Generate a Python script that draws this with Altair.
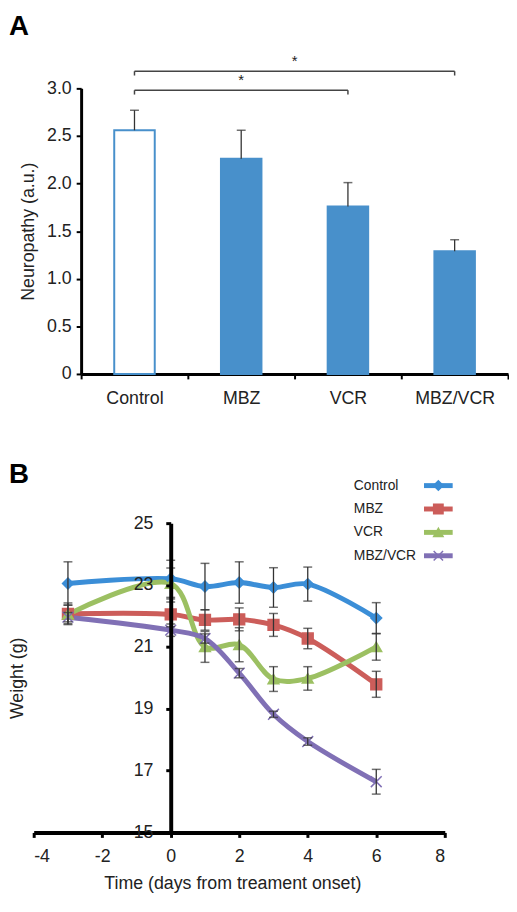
import altair as alt
import pandas as pd

# ---------------- Panel A data ----------------
groups = ["Control", "MBZ", "VCR", "MBZ/VCR"]
neuropathy = [2.56, 2.26, 1.76, 1.29]
neuropathy_err = [0.21, 0.30, 0.25, 0.12]

bracket_from = ["Control", "Control"]
bracket_to = ["VCR", "MBZ/VCR"]
bracket_level = [2.98, 3.18]
bracket_label = ["*", "*"]

# ---------------- Panel B data ----------------
days = [-3, 0, 1, 2, 3, 4, 6]
series = ["Control", "MBZ", "VCR", "MBZ/VCR"]
weight_control = [23.05, 23.2, 22.95, 23.08, 22.92, 23.03, 21.93]
err_control = [0.70, 0.60, 0.75, 0.67, 0.64, 0.55, 0.50]
weight_mbz = [22.07, 22.05, 21.87, 21.89, 21.71, 21.27, 19.79]
err_mbz = [0.35, 0.40, 0.33, 0.37, 0.37, 0.33, 0.42]
weight_vcr = [22.05, 23.05, 21.0, 21.07, 19.96, 19.98, 21.0]
err_vcr = [0.30, 0.50, 0.50, 0.55, 0.40, 0.38, 0.43]
weight_combo = [21.96, 21.54, 21.27, 20.15, 18.82, 17.94, 16.64]
err_combo = [0.15, 0.20, 0.15, 0.15, 0.10, 0.12, 0.40]

FONT = "Liberation Sans"
TXT = "#222222"
BAR_BLUE = "#4890CB"
colors = ["#3B8ED7", "#CC5D5A", "#9CC062", "#8070B5"]
fills = ["#3B8ED7", "#CC5D5A", "#9CC062", "transparent"]
shapes = ["diamond", "square", "triangle-up", "M-1,-1L1,1M-1,1L1,-1"]

# ---------------- Panel A ----------------
dfA = pd.DataFrame({"group": groups, "value": neuropathy, "err": neuropathy_err})
dfA["top"] = dfA["value"] + dfA["err"]

idx = {g: i for i, g in enumerate(groups)}
dfBr = pd.DataFrame({
    "x1": [idx[g] + 0.5 for g in bracket_from],
    "x2": [idx[g] + 0.5 for g in bracket_to],
    "level": bracket_level,
    "label": bracket_label,
})
dfBr["mid"] = (dfBr["x1"] + dfBr["x2"]) / 2
dfBr["drop"] = dfBr["level"] - 0.045

YA_TITLE = "Neuropathy (a.u.)"
yA_scale = alt.Scale(domain=[0, 3], nice=False, zero=True)
x_band = alt.X(
    "group:N", sort=groups,
    scale=alt.Scale(domain=groups, paddingInner=0, paddingOuter=0),
    axis=alt.Axis(title=None, labelAngle=0, labelFontSize=18, labelColor=TXT,
                  domainColor="black", domainWidth=3, tickColor="black", tickWidth=2,
                  tickSize=5, tickBand="extent", labelPadding=11),
)
yA = alt.Y(
    "value:Q", scale=yA_scale, title=YA_TITLE,
    axis=alt.Axis(values=[0, 0.5, 1, 1.5, 2, 2.5, 3],
                  labelExpr="datum.value == 0 ? '0' : format(datum.value, '.1f')",
                  labelFontSize=18, labelColor=TXT, domainColor="black", domainWidth=3,
                  tickColor="black", tickWidth=2, tickSize=5, labelPadding=5,
                  titleFontSize=18, titleFontWeight="normal", titleColor=TXT, titlePadding=9,
                  grid=False),
)

bars = alt.Chart(dfA).mark_bar(size=41, stroke=BAR_BLUE, strokeWidth=2).encode(
    x=x_band, y=yA,
    fill=alt.condition(alt.datum.group == "Control", alt.value("white"), alt.value(BAR_BLUE)),
)
errA = alt.Chart(dfA).mark_rule(color="#333333", strokeWidth=1.3).encode(
    x=x_band, y=alt.Y("value:Q", scale=yA_scale, title=YA_TITLE), y2="top:Q")
capA = alt.Chart(dfA).mark_tick(color="#333333", thickness=1.5, size=9, orient="horizontal").encode(
    x=x_band, y=alt.Y("top:Q", scale=yA_scale, title=YA_TITLE))

x_lin = alt.Scale(domain=[0, 4], nice=False, zero=False)
br_h = alt.Chart(dfBr).mark_rule(color="#444444", strokeWidth=1.5).encode(
    x=alt.X("x1:Q", scale=x_lin, axis=None), x2="x2:Q",
    y=alt.Y("level:Q", scale=yA_scale, title=YA_TITLE))
br_l = alt.Chart(dfBr).mark_rule(color="#444444", strokeWidth=1.5).encode(
    x=alt.X("x1:Q", scale=x_lin, axis=None),
    y=alt.Y("level:Q", scale=yA_scale, title=YA_TITLE), y2="drop:Q")
br_r = alt.Chart(dfBr).mark_rule(color="#444444", strokeWidth=1.5).encode(
    x=alt.X("x2:Q", scale=x_lin, axis=None),
    y=alt.Y("level:Q", scale=yA_scale, title=YA_TITLE), y2="drop:Q")
stars = alt.Chart(dfBr).mark_text(fontSize=15, baseline="middle", dy=-10, color=TXT).encode(
    x=alt.X("mid:Q", scale=x_lin, axis=None),
    y=alt.Y("level:Q", scale=yA_scale, title=YA_TITLE), text="label:N")
letterA = alt.Chart(pd.DataFrame({"panel": ["A"]})).mark_text(
    fontSize=28, fontWeight="bold", align="left", baseline="top", color="black").encode(
    x=alt.value(-73), y=alt.value(-76), text="panel:N")

panelA = alt.layer(
    alt.layer(bars, errA, capA),
    alt.layer(br_h, br_l, br_r, stars, letterA),
).resolve_scale(x="independent").properties(width=432, height=289)

# ---------------- Panel B ----------------
rows = []
for name, w, e in [("Control", weight_control, err_control), ("MBZ", weight_mbz, err_mbz),
                   ("VCR", weight_vcr, err_vcr), ("MBZ/VCR", weight_combo, err_combo)]:
    for d, wv, ev in zip(days, w, e):
        rows.append({"series": name, "day": d, "weight": wv, "lo": wv - ev, "hi": wv + ev})
dfB = pd.DataFrame(rows)

YB_TITLE = "Weight (g)"
xB_scale = alt.Scale(domain=[-4, 8], range=[-48, 368], nice=False, zero=False)
yB_scale = alt.Scale(domain=[15, 25], nice=False, zero=False)
xB = alt.X("day:Q", scale=xB_scale, title="Time (days from treament onset)",
           axis=alt.Axis(values=[-4, -2, 0, 2, 4, 6, 8], labelFontSize=18, labelColor=TXT,
                         labelExpr="replace(datum.label, '\u2212', '-')",
                         domainColor="black", domainWidth=4, tickColor="black", tickWidth=3,
                         tickSize=5, labelPadding=10, titleFontSize=18, titleFontWeight="normal",
                         titleColor=TXT, titlePadding=10, titleX=153, grid=False))
yB = alt.Y("weight:Q", scale=yB_scale, title=YB_TITLE,
           axis=alt.Axis(values=list(range(15, 26)),
                         labelExpr="datum.value % 2 == 1 ? datum.label : ''",
                         labelFontSize=18, labelColor=TXT, domainColor="black", domainWidth=4,
                         tickColor="black", tickWidth=3, tickSize=5, labelPadding=13,
                         offset=-90.67, zindex=1, titleFontSize=18, titleFontWeight="normal",
                         titleColor=TXT, titleX=-146, grid=False))

color_enc = alt.Color("series:N", scale=alt.Scale(domain=series, range=colors), legend=None)
shape_enc = alt.Shape("series:N", scale=alt.Scale(domain=series, range=shapes), legend=None)
fill_enc = alt.Fill("series:N", scale=alt.Scale(domain=series, range=fills), legend=None)
stroke_enc = alt.Stroke("series:N", scale=alt.Scale(domain=series, range=colors), legend=None)

lines = alt.Chart(dfB).mark_line(interpolate="catmull-rom", strokeWidth=5).encode(
    x=xB, y=yB, color=color_enc)
points = alt.Chart(dfB).mark_point(size=120, opacity=1, strokeWidth=1.5).encode(
    x=xB, y=yB, shape=shape_enc, fill=fill_enc, stroke=stroke_enc)
errB = alt.Chart(dfB).mark_rule(color="#333333", strokeWidth=1.3).encode(
    x=xB, y=alt.Y("lo:Q", scale=yB_scale, title=YB_TITLE), y2="hi:Q")
capB_lo = alt.Chart(dfB).mark_tick(color="#333333", thickness=1.5, size=9, orient="horizontal").encode(
    x=xB, y=alt.Y("lo:Q", scale=yB_scale, title=YB_TITLE))
capB_hi = alt.Chart(dfB).mark_tick(color="#333333", thickness=1.5, size=9, orient="horizontal").encode(
    x=xB, y=alt.Y("hi:Q", scale=yB_scale, title=YB_TITLE))

dfLeg = pd.DataFrame({"series": series})
y_leg = alt.Y("series:N", scale=alt.Scale(type="point", domain=series, range=[-38, 33], padding=0), axis=None)
leg_text = alt.Chart(dfLeg).mark_text(align="left", baseline="middle", fontSize=14, color=TXT).encode(
    x=alt.value(276), y=y_leg, text="series:N")
leg_line = alt.Chart(dfLeg).mark_rule(strokeWidth=5).encode(
    x=alt.value(347), x2=alt.value(376), y=y_leg, color=color_enc)
leg_pt = alt.Chart(dfLeg).mark_point(size=90, opacity=1, strokeWidth=1.5).encode(
    x=alt.value(361.5), y=y_leg, shape=shape_enc, fill=fill_enc, stroke=stroke_enc)
letterB = alt.Chart(pd.DataFrame({"panel": ["B"]})).mark_text(
    fontSize=28, fontWeight="bold", align="left", baseline="top", color="black").encode(
    x=alt.value(-73), y=alt.value(-63), text="panel:N")

panelB = alt.layer(
    alt.layer(lines, points, errB, capB_lo, capB_hi),
    alt.layer(leg_line, leg_pt, leg_text, letterB),
).resolve_scale(y="independent").properties(width=368, height=313)

chart = alt.vconcat(panelA, panelB, spacing=151, bounds="flush").properties(
    padding=0
).configure(font=FONT).configure_view(stroke=None)

chart.save("out.html", embed_options={"renderer": "svg", "actions": False})
